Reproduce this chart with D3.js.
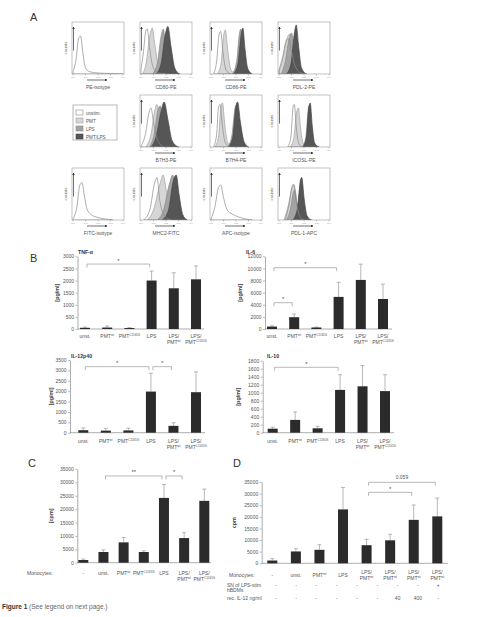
<!DOCTYPE html>
<html>
<head>
<meta charset="utf-8">
<script src="https://cdn.jsdelivr.net/npm/d3@7"></script>
<style>
body { margin: 0; background: #fff; }
svg { display: block; font-family: Arial, "Liberation Sans", sans-serif; }
</style>
</head>
<body>
<svg id="fig" width="477" height="617"></svg>
<script>
// ---------- panel A : flow cytometry histograms (log decade, relative count) ----------
var flowNames = ["PE-isotype", "CD80-PE", "CD86-PE", "PDL-2-PE",
    null, "B7H3-PE", "B7H4-PE", "ICOSL-PE",
    "FITC-isotype", "MHC2-FITC", "APC-isotype", "PDL-1-APC"]
var legendNames = ["unstim.", "PMT", "LPS", "PMT/LPS"]

// each marker: [unstim, PMT, LPS, PMT/LPS]
var peIso = [[[0, 0.05], [0.25, 0.3], [0.45, 0.72], [0.6, 0.76], [0.8, 0.4], [1.0, 0.12], [1.3, 0.05], [2, 0.02], [3, 0.01], [4, 0]]]
var cd80 = [
    [[0, 0.1], [0.2, 0.45], [0.4, 0.88], [0.5, 0.9], [0.7, 0.5], [0.95, 0.15], [1.3, 0.03], [2, 0]],
    [[0.1, 0], [0.4, 0.2], [0.7, 0.75], [0.9, 0.92], [1.1, 0.6], [1.4, 0.15], [1.8, 0.02], [2.2, 0]],
    [[0.9, 0], [1.3, 0.2], [1.6, 0.75], [1.78, 0.9], [2.0, 0.5], [2.3, 0.1], [2.7, 0]],
    [[1.2, 0], [1.6, 0.2], [1.95, 0.8], [2.15, 0.95], [2.4, 0.55], [2.7, 0.12], [3.1, 0]]]
var cd86 = [
    [[0.2, 0], [0.45, 0.25], [0.65, 0.8], [0.77, 0.85], [0.95, 0.45], [1.2, 0.08], [1.6, 0]],
    [[0.5, 0], [0.8, 0.2], [1.0, 0.75], [1.15, 0.88], [1.35, 0.45], [1.6, 0.08], [2, 0]],
    [[1.7, 0], [2.05, 0.25], [2.3, 0.85], [2.4, 0.9], [2.6, 0.45], [2.85, 0.08], [3.2, 0]],
    [[1.8, 0], [2.15, 0.2], [2.42, 0.8], [2.55, 0.92], [2.72, 0.5], [2.95, 0.1], [3.3, 0]]]
var pdl2 = [
    [[0, 0.08], [0.3, 0.35], [0.6, 0.68], [0.75, 0.7], [1.0, 0.45], [1.3, 0.15], [1.7, 0.03], [2.2, 0]],
    [[0, 0.05], [0.3, 0.3], [0.65, 0.72], [0.85, 0.8], [1.1, 0.5], [1.4, 0.15], [1.8, 0.02], [2.2, 0]],
    [[0.2, 0], [0.5, 0.25], [0.85, 0.75], [1.0, 0.82], [1.2, 0.55], [1.5, 0.15], [1.9, 0]],
    [[0.6, 0], [0.95, 0.2], [1.25, 0.85], [1.38, 0.98], [1.55, 0.6], [1.8, 0.12], [2.2, 0]]]
var b7h3 = [
    [[0, 0.02], [0.35, 0.25], [0.65, 0.7], [0.8, 0.78], [1.0, 0.5], [1.3, 0.15], [1.8, 0]],
    [[0.4, 0], [0.8, 0.25], [1.15, 0.78], [1.28, 0.85], [1.5, 0.5], [1.8, 0.12], [2.3, 0]],
    [[0.7, 0], [1.05, 0.25], [1.4, 0.78], [1.55, 0.82], [1.75, 0.5], [2.1, 0.1], [2.5, 0]],
    [[0.8, 0], [1.2, 0.2], [1.6, 0.7], [1.85, 0.9], [2.15, 0.55], [2.5, 0.12], [3.0, 0]]]
var b7h4 = [
    [[0.2, 0], [0.45, 0.25], [0.6, 0.8], [0.72, 0.85], [0.9, 0.45], [1.15, 0.08], [1.5, 0]],
    [[0.3, 0], [0.6, 0.2], [0.8, 0.8], [0.92, 0.88], [1.1, 0.45], [1.35, 0.08], [1.7, 0]],
    [[1.3, 0], [1.65, 0.2], [1.92, 0.78], [2.05, 0.85], [2.25, 0.45], [2.55, 0.08], [2.9, 0]],
    [[1.4, 0], [1.75, 0.2], [2.0, 0.82], [2.13, 0.9], [2.35, 0.5], [2.65, 0.1], [3.0, 0]]]
var icosl = [
    [[0.7, 0], [0.95, 0.2], [1.13, 0.8], [1.23, 0.85], [1.38, 0.4], [1.6, 0.06], [1.9, 0]],
    [[0.9, 0], [1.2, 0.2], [1.43, 0.72], [1.55, 0.78], [1.72, 0.4], [1.95, 0.06], [2.3, 0]],
    [[1.85, 0], [2.15, 0.2], [2.35, 0.78], [2.45, 0.84], [2.6, 0.4], [2.8, 0.06], [3.1, 0]],
    [[1.9, 0], [2.2, 0.2], [2.4, 0.82], [2.5, 0.88], [2.65, 0.45], [2.85, 0.08], [3.2, 0]]]
var fitcIso = [[[0, 0.02], [0.3, 0.25], [0.55, 0.7], [0.72, 0.75], [0.9, 0.5], [1.15, 0.2], [1.5, 0.1], [2.0, 0.05], [2.6, 0.02], [3.2, 0]]]
var mhc2 = [
    [[0.2, 0], [0.7, 0.2], [1.1, 0.75], [1.28, 0.85], [1.5, 0.4], [1.9, 0.08], [2.4, 0]],
    [[0.5, 0], [1.0, 0.2], [1.5, 0.7], [1.77, 0.9], [2.05, 0.55], [2.4, 0.12], [2.9, 0]],
    [[1.3, 0], [1.8, 0.2], [2.3, 0.75], [2.54, 0.9], [2.8, 0.5], [3.1, 0.1], [3.5, 0]],
    [[1.7, 0], [2.2, 0.2], [2.6, 0.8], [2.82, 0.9], [3.05, 0.5], [3.35, 0.1], [3.7, 0]]]
var apcIso = [[[0, 0.02], [0.3, 0.25], [0.6, 0.65], [0.77, 0.7], [1.0, 0.45], [1.3, 0.2], [1.7, 0.12], [2.2, 0.06], [2.8, 0.02], [3.3, 0]]]
var pdl1 = [
    [[0.5, 0], [0.8, 0.3], [1.05, 0.68], [1.15, 0.72], [1.35, 0.4], [1.65, 0.08], [2, 0]],
    [[0.4, 0], [0.75, 0.3], [1.05, 0.65], [1.2, 0.7], [1.45, 0.35], [1.75, 0.06], [2.1, 0]],
    [[0.6, 0], [0.9, 0.2], [1.15, 0.55], [1.25, 0.6], [1.45, 0.3], [1.7, 0.05], [2, 0]],
    [[1.1, 0], [1.45, 0.2], [1.72, 0.8], [1.82, 0.85], [2.0, 0.45], [2.25, 0.08], [2.6, 0]]]
var flowSets = [peIso, cd80, cd86, pdl2, null, b7h3, b7h4, icosl, fitcIso, mhc2, apcIso, pdl1]

// ---------- panel B : cytokines ----------
var cytoCats = ["unst.", "PMT^wt", "PMT^C1165S", "LPS", "LPS/\nPMT^wt", "LPS/\nPMT^C1165S"]
var tnfMean = [50, 60, 40, 2000, 1680, 2050]
var tnfSd = [30, 60, 20, 390, 640, 550]
var il6Mean = [400, 1950, 250, 5300, 8100, 4950]
var il6Sd = [120, 520, 80, 2400, 2600, 2450]
var il12Mean = [120, 100, 110, 1980, 330, 1950]
var il12Sd = [110, 110, 110, 880, 150, 980]
var il10Mean = [100, 320, 110, 1070, 1160, 1040]
var il10Sd = [40, 200, 50, 380, 520, 410]
var tnfSig = [[0, 3, "*"]]
var il6Sig = [[0, 3, "*"], [0, 1, "*"]]
var il12Sig = [[0, 3, "*"], [3, 4, "*"]]
var il10Sig = [[0, 3, "*"]]

// ---------- panel C : proliferation ----------
var prolifCats = ["-", "unst.", "PMT^wt", "PMT^C1165S", "LPS", "LPS/\nPMT^wt", "LPS/\nPMT^C1165S"]
var prolifMean = [1000, 4000, 7600, 4000, 24200, 9200, 23100]
var prolifSd = [350, 800, 1800, 450, 5000, 2000, 4400]
var prolifSig = [[1, 4, "**"], [4, 5, "*"]]

// ---------- panel D : supernatant / IL-12 ----------
var snCats = ["-", "unst.", "PMT^wt", "LPS", "LPS/\nPMT^wt", "LPS/\nPMT^wt", "LPS/\nPMT^wt", "LPS/\nPMT^wt"]
var snMean = [1200, 5100, 5800, 23200, 7800, 9900, 18700, 20200]
var snSd = [800, 1200, 2200, 9400, 2500, 2600, 6400, 7900]
var snSig = [[4, 6, "*"], [4, 7, "0.059"]]
var snRow = ["-", "-", "-", "-", "-", "-", "-", "-", "+"]
var il12Row = ["-", "-", "-", "-", "-", "-", "40", "400", "-"]

var svg = d3.select("#fig")
var GREY = "#555"

function rich(g, str, x, y, size, anchor, lineH, fill) {
    str.split("\n").forEach(function(line, i) {
        var parts = line.split("^")
        var t = g.append("text").attr("x", x).attr("y", y + i * lineH)
            .attr("font-size", size).attr("text-anchor", anchor).attr("fill", fill || GREY)
        t.append("tspan").text(parts[0])
        if (parts[1]) t.append("tspan").attr("font-size", size * 0.62).attr("dy", -size * 0.4).text(parts[1])
    })
}

// panel letters
;[["A", 30, 21], ["B", 30, 262], ["C", 28, 467], ["D", 233, 467]].forEach(function(d) {
    svg.append("text").attr("x", d[1]).attr("y", d[2]).attr("font-size", 11).attr("fill", "#333").text(d[0])
})

// ---------- draw panel A ----------
var colX = [72, 140, 210, 278], rowY = [22, 95, 168], bw = 52, bh = 52
var fills = ["none", "#d6d6d6", "#a3a3a3", "#565656"]
var strokes = ["#8a8a8a", "#a0a0a0", "#8a8a8a", "#454545"]
var drawOrder = [1, 2, 3, 0]

var defs = svg.append("defs")
defs.append("marker").attr("id", "arr").attr("viewBox", "0 0 6 6").attr("refX", 5).attr("refY", 3)
    .attr("markerWidth", 4).attr("markerHeight", 4).attr("orient", "auto")
    .append("path").attr("d", "M0,0L6,3L0,6Z").attr("fill", "#333")

flowNames.forEach(function(name, i) {
    var x0 = colX[i % 4], y0 = rowY[Math.floor(i / 4)]
    var g = svg.append("g")
    if (name === null) {
        // legend box
        var lg = g.append("g")
        lg.append("rect").attr("x", x0 + 1).attr("y", y0 + 10).attr("width", 44).attr("height", 35)
            .attr("fill", "#fff").attr("stroke", "#999").attr("stroke-width", 0.7)
        legendNames.forEach(function(l, j) {
            var yy = y0 + 15 + j * 8
            lg.append("rect").attr("x", x0 + 4).attr("y", yy).attr("width", 7).attr("height", 5)
                .attr("fill", j === 0 ? "#fff" : fills[j]).attr("stroke", strokes[j]).attr("stroke-width", 0.6)
            lg.append("text").attr("x", x0 + 14).attr("y", yy + 4.5).attr("font-size", 4.6).attr("fill", GREY).text(l)
        })
        return
    }
    var x = d3.scaleLinear().domain([0, 4]).range([x0 + 1, x0 + bw - 1])
    var y = d3.scaleLinear().domain([0, 1]).range([y0 + bh, y0 + 2])
    var area = d3.area().x(function(d) { return x(d[0]) }).y0(y0 + bh).y1(function(d) { return y(d[1]) })
        .curve(d3.curveMonotoneX)
    var curves = flowSets[i]
    var clip = "clip" + i
    defs.append("clipPath").attr("id", clip).append("rect")
        .attr("x", x0).attr("y", y0).attr("width", bw).attr("height", bh)
    var cg = g.append("g").attr("clip-path", "url(#" + clip + ")")
    drawOrder.forEach(function(k) {
        if (!curves[k]) return
        cg.append("path").attr("d", area(curves[k]))
            .attr("fill", fills[k]).attr("stroke", strokes[k]).attr("stroke-width", 0.7)
    })
    g.append("rect").attr("x", x0).attr("y", y0).attr("width", bw).attr("height", bh)
        .attr("fill", "none").attr("stroke", "#9a9a9a").attr("stroke-width", 0.6)
    // decade ticks
    d3.range(0, 5).forEach(function(t) {
        g.append("line").attr("x1", x(t)).attr("x2", x(t)).attr("y1", y0 + bh).attr("y2", y0 + bh + 1.5)
            .attr("stroke", "#888").attr("stroke-width", 0.5)
        g.append("text").attr("x", x(t)).attr("y", y0 + bh + 4).attr("font-size", 2.4)
            .attr("text-anchor", "middle").attr("fill", "#999").text("10" + t)
    })
    // axis arrows
    g.append("line").attr("x1", x0 + 1.5).attr("x2", x0 + 1.5).attr("y1", y0 + bh * 0.55).attr("y2", y0 + 5)
        .attr("stroke", "#333").attr("stroke-width", 0.7).attr("marker-end", "url(#arr)")
    g.append("line").attr("x1", x0 + 15).attr("x2", x0 + 35).attr("y1", y0 + bh + 6).attr("y2", y0 + bh + 6)
        .attr("stroke", "#333").attr("stroke-width", 0.7).attr("marker-end", "url(#arr)")
    g.append("text").attr("transform", "translate(" + (x0 - 5) + "," + (y0 + bh / 2) + ") rotate(-90)")
        .attr("text-anchor", "middle").attr("font-size", 4.4).attr("fill", "#666").text("counts")
    g.append("text").attr("x", x0 + bw / 2).attr("y", y0 + bh + 15).attr("text-anchor", "middle")
        .attr("font-size", 5).attr("fill", GREY).text(name)
})

// ---------- generic bar chart ----------
function barChart(p) {
    var g = svg.append("g")
    var y = d3.scaleLinear().domain([0, p.max]).range([p.yBot, p.yTop])
    var x = d3.scalePoint().domain(d3.range(p.cats.length)).range([p.xFirst, p.xLast])
    var ax = d3.axisLeft(y).tickValues(d3.range(0, p.max + 1, p.step)).tickSize(2).tickSizeOuter(0)
        .tickPadding(1.5).tickFormat(d3.format("d"))
    var axg = g.append("g").attr("transform", "translate(" + p.axisX + ",0)").call(ax)
    axg.select(".domain").attr("stroke", "#777").attr("stroke-width", 0.6)
    axg.selectAll(".tick line").attr("stroke", "#777").attr("stroke-width", 0.5)
    axg.selectAll(".tick text").attr("font-size", 5).attr("fill", GREY).attr("font-family", null)
    g.append("line").attr("x1", p.axisX).attr("x2", p.xEnd).attr("y1", y(0)).attr("y2", y(0))
        .attr("stroke", "#777").attr("stroke-width", 0.6)
    // error bars (upper only)
    p.mean.forEach(function(m, i) {
        var top = y(m + p.sd[i])
        g.append("line").attr("x1", x(i)).attr("x2", x(i)).attr("y1", y(m)).attr("y2", top)
            .attr("stroke", "#9a9a9a").attr("stroke-width", 0.7)
        g.append("line").attr("x1", x(i) - 2).attr("x2", x(i) + 2).attr("y1", top).attr("y2", top)
            .attr("stroke", "#9a9a9a").attr("stroke-width", 0.7)
    })
    g.selectAll("rect.bar").data(p.mean).enter().append("rect").attr("class", "bar")
        .attr("x", function(d, i) { return x(i) - 5 }).attr("width", 10)
        .attr("y", function(d) { return y(d) }).attr("height", function(d) { return y(0) - y(d) })
        .attr("fill", "#2b2b2b")
    // significance brackets
    p.sig.forEach(function(s, j) {
        var xa = x(s[0]) + 2, xb = x(s[1]) - 2, yy = y(p.sigLevel[j])
        g.append("path").attr("d", "M" + xa + "," + (yy + 3.5) + "V" + yy + "H" + xb + "V" + (yy + 3.5))
            .attr("fill", "none").attr("stroke", "#8a8a8a").attr("stroke-width", 0.6)
        g.append("text").attr("x", (xa + xb) / 2).attr("y", yy - (s[2] === "0.059" ? 3 : 1.5))
            .attr("text-anchor", "middle").attr("font-size", s[2] === "0.059" ? 5 : 6).attr("fill", GREY).text(s[2])
    })
    // category labels
    if (p.showLabels !== false) {
        p.cats.forEach(function(c, i) {
            var lift = (p.centerLines && c.indexOf("\n") >= 0) ? 2.5 : 0
            rich(g, c, x(i), y(0) + p.labelDy - lift, 5, "middle", 6)
        })
    }
    if (p.title) g.append("text").attr("x", p.titleX).attr("y", p.yTop - 2.5).attr("font-size", 5.2)
        .attr("font-weight", "bold").attr("fill", "#333").text(p.title)
    g.append("text").attr("transform", "translate(" + p.ylabX + "," + ((p.yTop + p.yBot) / 2) + ") rotate(-90)")
        .attr("text-anchor", "middle").attr("font-size", 5.4).attr("font-weight", "bold").attr("fill", "#444")
        .text(p.ylab)
    return { x: x, y: y, g: g }
}

// panel B
barChart({ cats: cytoCats, mean: tnfMean, sd: tnfSd, max: 3000, step: 500, yTop: 256.3, yBot: 329,
    axisX: 77.5, xFirst: 85, xLast: 196, xEnd: 204, sig: tnfSig, sigLevel: [2680], labelDy: 9,
    title: "TNF-\u03b1", titleX: 78, ylab: "[pg/ml]", ylabX: 59 })
barChart({ cats: cytoCats, mean: il6Mean, sd: il6Sd, max: 12000, step: 2000, yTop: 256.3, yBot: 329,
    axisX: 265, xFirst: 272, xLast: 383, xEnd: 392, sig: il6Sig, sigLevel: [10120, 4340], labelDy: 9,
    title: "IL-6", titleX: 246, ylab: "[pg/ml]", ylabX: 242 })
barChart({ cats: cytoCats, mean: il12Mean, sd: il12Sd, max: 3500, step: 500, yTop: 360, yBot: 432.7,
    axisX: 70, xFirst: 83.3, xLast: 196, xEnd: 205, sig: il12Sig, sigLevel: [3180, 3180], labelDy: 10,
    title: "IL-12p40", titleX: 71, ylab: "[pg/ml]", ylabX: 53 })
barChart({ cats: cytoCats, mean: il10Mean, sd: il10Sd, max: 1800, step: 200, yTop: 360.7, yBot: 432.7,
    axisX: 262.7, xFirst: 272.7, xLast: 385, xEnd: 394, sig: il10Sig, sigLevel: [1635], labelDy: 10,
    title: "IL-10", titleX: 267, ylab: "[pg/ml]", ylabX: 240 })

// panel C
barChart({ cats: prolifCats, mean: prolifMean, sd: prolifSd, max: 35000, step: 5000, yTop: 469, yBot: 562.7,
    axisX: 77.3, xFirst: 83.3, xLast: 204.3, xEnd: 211, sig: prolifSig, sigLevel: [32400, 32400], labelDy: 12,
    ylab: "[cpm]", ylabX: 53 })
svg.append("text").attr("x", 27).attr("y", 574.7).attr("font-size", 5).attr("fill", GREY).text("Monocytes:")

// panel D
var dChart = barChart({ cats: snCats, mean: snMean, sd: snSd, max: 35000, step: 5000, yTop: 482, yBot: 563.3,
    axisX: 261.7, xFirst: 272.3, xLast: 437.3, xEnd: 448, sig: snSig, sigLevel: [30560, 34870], labelDy: 13.5,
    centerLines: true, ylab: "cpm", ylabX: 236 })
var colScale = d3.scalePoint().domain(d3.range(snRow.length)).range([275.7, 438.3])
var tg = svg.append("g")
tg.append("text").attr("x", 229).attr("y", 576.8).attr("font-size", 5).attr("fill", GREY).text("Monocytes:")
tg.append("text").attr("x", 227).attr("y", 586.5).attr("font-size", 5).attr("fill", GREY).text("SN of LPS-stim")
tg.append("text").attr("x", 227).attr("y", 592.3).attr("font-size", 5).attr("fill", GREY).text("hBDMs")
tg.append("text").attr("x", 227).attr("y", 600).attr("font-size", 5).attr("fill", GREY).text("rec. IL-12 ng/ml")
snRow.forEach(function(v, i) {
    tg.append("text").attr("x", colScale(i)).attr("y", 586.5).attr("text-anchor", "middle")
        .attr("font-size", 5).attr("fill", GREY).text(v)
})
il12Row.forEach(function(v, i) {
    tg.append("text").attr("x", colScale(i)).attr("y", 600).attr("text-anchor", "middle")
        .attr("font-size", 5).attr("fill", GREY).text(v)
})

// caption
var cap = svg.append("text").attr("x", 2).attr("y", 609).attr("font-size", 6.5).attr("fill", "#666")
cap.append("tspan").attr("font-weight", "bold").attr("fill", "#333").text("Figure 1")
cap.append("tspan").text(" (See legend on next page.)")
</script>
</body>
</html>
